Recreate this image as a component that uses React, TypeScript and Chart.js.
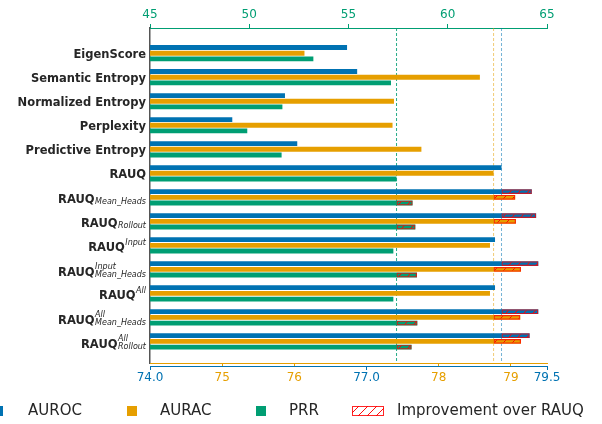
import React, { useEffect, useRef } from 'react';
import { Chart, registerables } from 'chart.js';

Chart.register(...registerables);

// ---------------- data ----------------
const categories = [
  'EigenScore',
  'Semantic Entropy',
  'Normalized Entropy',
  'Perplexity',
  'Predictive Entropy',
  'RAUQ',
  'RAUQ',
  'RAUQ',
  'RAUQ',
  'RAUQ',
  'RAUQ',
  'RAUQ',
  'RAUQ',
];
const labelSup = ['', '', '', '', '', '', '', '', 'Input', 'Input', 'All', 'All', 'All'];
const labelSub = ['', '', '', '', '', '', 'Mean_Heads', 'Rollout', '', 'Mean_Heads', '', 'Mean_Heads', 'Rollout'];

const aurocValues = [76.73, 76.87, 75.87, 75.14, 76.04, 78.87, 79.29, 79.35, 78.78, 79.38, 78.78, 79.38, 79.26];
const auracValues = [76.14, 78.57, 77.38, 77.36, 77.76, 78.76, 79.06, 79.07, 78.71, 79.14, 78.71, 79.13, 79.14];
const prrValues = [53.23, 57.14, 51.67, 49.9, 51.63, 57.42, 58.23, 58.37, 57.26, 58.45, 57.26, 58.47, 58.18];

const baselineIndex = 5; // RAUQ

const aurocTicks = [74, 77, 79.5];
const auracTicks = [75, 76, 78, 79];
const prrTicks = [45, 50, 55, 60, 65];

const legendLabels = ['AUROC', 'AURAC', 'PRR', 'Improvement over RAUQ'];

// ---------------- styles ----------------
const BLUE = '#0072B2';
const ORANGE = '#E69F00';
const GREEN = '#009E73';
const TEXT = '#262626';
const FONT = "'DejaVu Sans'";

function makeHatch(): CanvasPattern | string {
  const s = 9;
  const c = document.createElement('canvas');
  c.width = s;
  c.height = s;
  const g = c.getContext('2d');
  if (!g) return 'rgba(255,0,0,0.3)';
  g.strokeStyle = 'rgba(255,0,0,0.95)';
  g.lineWidth = 1;
  g.beginPath();
  g.moveTo(0, s);
  g.lineTo(s, 0);
  g.moveTo(-1, 1);
  g.lineTo(1, -1);
  g.moveTo(s - 1, s + 1);
  g.lineTo(s + 1, s - 1);
  g.stroke();
  return g.createPattern(c, 'repeat') || 'rgba(255,0,0,0.3)';
}

const improvement = (vals: number[]) =>
  vals.map((v) => (v > vals[baselineIndex] ? [vals[baselineIndex], v] : null));

export default function App() {
  const ref = useRef<HTMLCanvasElement>(null);

  useEffect(() => {
    if (!ref.current) return;
    const hatch = makeHatch();
    const hatchStyle = {
      backgroundColor: hatch,
      borderColor: 'rgba(255,0,0,0.75)',
      borderWidth: 1.2,
      borderSkipped: false as const,
    };

    const refLines = {
      id: 'refLines',
      beforeDatasetsDraw(chart: any) {
        const { ctx, chartArea, scales } = chart;
        const lines: [any, number, string][] = [
          [scales.x3, prrValues[baselineIndex], 'rgba(0,158,115,0.85)'],
          [scales.x2, auracValues[baselineIndex], 'rgba(230,159,0,0.55)'],
          [scales.x, aurocValues[baselineIndex], 'rgba(0,114,178,0.55)'],
        ];
        ctx.save();
        for (const [sc, v, col] of lines) {
          const x = sc.getPixelForValue(v);
          ctx.strokeStyle = col;
          ctx.lineWidth = 1;
          ctx.setLineDash([3, 2]);
          ctx.beginPath();
          ctx.moveTo(x, chartArea.top);
          ctx.lineTo(x, chartArea.bottom);
          ctx.stroke();
        }
        ctx.restore();
      },
    };

    const yLabels = {
      id: 'yLabels',
      afterDraw(chart: any) {
        const { ctx, scales } = chart;
        const right = scales.y.right - 4;
        ctx.save();
        ctx.fillStyle = TEXT;
        ctx.textBaseline = 'alphabetic';
        ctx.textAlign = 'left';
        categories.forEach((name, i) => {
          const yc = scales.y.getPixelForValue(i);
          const sup = labelSup[i];
          const sub = labelSub[i];
          const both = sup && sub;
          const baseline = yc + 5.2 + (both ? 1.3 : 0);
          ctx.font = `bold 11.5px ${FONT}`;
          const wMain = ctx.measureText(name).width;
          ctx.font = `italic 8px ${FONT}`;
          const wScript = Math.max(sup ? ctx.measureText(sup).width : 0, sub ? ctx.measureText(sub).width : 0);
          const x0 = right - wMain - wScript - (wScript ? 0.5 : 0);
          ctx.font = `bold 11.5px ${FONT}`;
          ctx.fillText(name, x0, baseline);
          ctx.font = `italic 8px ${FONT}`;
          const xs = x0 + wMain + 0.5;
          if (sup) ctx.fillText(sup, xs, baseline - (both ? 6.5 : 5.8));
          if (sub) ctx.fillText(sub, xs, baseline + 1.6);
        });
        ctx.restore();
      },
    };

    const legendPlugin = {
      id: 'customLegend',
      afterDraw(chart: any) {
        const { ctx } = chart;
        const cy = 411;
        ctx.save();
        ctx.font = `15px ${FONT}`;
        ctx.textBaseline = 'middle';
        ctx.textAlign = 'left';
        const boxes: [number, string, number][] = [
          [-7, BLUE, 28],
          [127, ORANGE, 160],
          [256, GREEN, 289],
        ];
        boxes.forEach(([bx, col, tx], i) => {
          ctx.fillStyle = col;
          ctx.fillRect(bx, cy - 5, 10, 10);
          ctx.fillStyle = TEXT;
          ctx.fillText(legendLabels[i], tx, cy);
        });
        ctx.fillStyle = '#ffffff';
        ctx.fillRect(352, cy - 5, 32, 10);
        ctx.fillStyle = hatch as any;
        ctx.fillRect(352, cy - 5, 32, 10);
        ctx.strokeStyle = 'rgba(255,0,0,0.85)';
        ctx.lineWidth = 1;
        ctx.strokeRect(352.5, cy - 4.5, 31, 9);
        ctx.fillStyle = TEXT;
        ctx.fillText(legendLabels[3], 397, cy);
        ctx.restore();
      },
    };

    Chart.defaults.font.family = FONT;

    const chart = new Chart(ref.current, {
      type: 'bar',
      data: {
        labels: categories.map((_, i) => i),
        datasets: [
          { label: 'AUROC+', data: improvement(aurocValues) as any, xAxisID: 'x', stack: 'auroc', ...hatchStyle },
          { label: 'AURAC+', data: improvement(auracValues) as any, xAxisID: 'x2', stack: 'aurac', ...hatchStyle },
          { label: 'PRR+', data: improvement(prrValues) as any, xAxisID: 'x3', stack: 'prr', ...hatchStyle },
          { label: 'AUROC', data: aurocValues, xAxisID: 'x', stack: 'auroc', backgroundColor: BLUE },
          { label: 'AURAC', data: auracValues, xAxisID: 'x2', stack: 'aurac', backgroundColor: ORANGE },
          { label: 'PRR', data: prrValues, xAxisID: 'x3', stack: 'prr', backgroundColor: GREEN },
        ],
      },
      options: {
        indexAxis: 'y',
        responsive: false,
        devicePixelRatio: 1,
        animation: false,
        categoryPercentage: 0.79,
        barPercentage: 0.85,
        layout: { padding: { left: 0, top: 0, right: 55, bottom: 37 } },
        plugins: { legend: { display: false }, tooltip: { enabled: false } },
        scales: {
          y: {
            type: 'linear',
            reverse: true,
            offset: false,
            min: -1.05,
            max: 12.9,
            ticks: { display: false },
            grid: { display: false, drawTicks: false, offset: false },
            border: { display: true, color: '#555555', width: 1.5 },
            afterFit: (s: any) => {
              s.width = 150;
            },
          },
          x3: {
            type: 'linear',
            position: 'top',
            stacked: false,
            min: 45,
            max: 65,
            afterBuildTicks: (s: any) => {
              s.ticks = prrTicks.map((v) => ({ value: v }));
            },
            ticks: { color: GREEN, font: { size: 12 }, padding: 2, maxRotation: 0, autoSkip: false },
            grid: { drawOnChartArea: false, tickLength: 4, tickColor: GREEN, color: GREEN },
            border: { color: GREEN, width: 1 },
            afterFit: (s: any) => {
              s.height = 28;
            },
          },
          x2: {
            type: 'linear',
            position: 'bottom',
            stacked: false,
            weight: 0,
            min: 74,
            max: 79.5,
            afterBuildTicks: (s: any) => {
              s.ticks = auracTicks.map((v) => ({ value: v }));
            },
            ticks: { display: false },
            grid: { drawOnChartArea: false, tickLength: 3, tickColor: ORANGE, color: ORANGE },
            border: { color: ORANGE, width: 1 },
            afterFit: (s: any) => {
              s.height = 3;
            },
          },
          x: {
            type: 'linear',
            position: 'bottom',
            stacked: false,
            weight: 1,
            min: 74,
            max: 79.5,
            afterBuildTicks: (s: any) => {
              s.ticks = [...aurocTicks, ...auracTicks].sort((a, b) => a - b).map((v) => ({ value: v }));
            },
            ticks: {
              font: { size: 12 },
              padding: 1,
              maxRotation: 0,
              autoSkip: false,
              callback: (v: any) => (aurocTicks.includes(Number(v)) ? Number(v).toFixed(1) : String(v)),
              color: (c: any) => (aurocTicks.includes(c.tick?.value) ? BLUE : ORANGE),
            },
            grid: {
              drawOnChartArea: false,
              tickLength: 4,
              color: BLUE,
              tickColor: (c: any) => (aurocTicks.includes(c.tick?.value) ? BLUE : 'rgba(0,0,0,0)'),
            },
            border: { color: BLUE, width: 1 },
            afterFit: (s: any) => {
              s.height = 21;
            },
          },
        },
      },
      plugins: [refLines, yLabels, legendPlugin],
    } as any);

    return () => chart.destroy();
  }, []);

  return (
    <div style={{ position: 'fixed', left: 0, top: 0, width: 602, height: 424, background: '#ffffff' }}>
      <canvas ref={ref} width={602} height={424} style={{ display: 'block', width: 602, height: 424 }} />
    </div>
  );
}
